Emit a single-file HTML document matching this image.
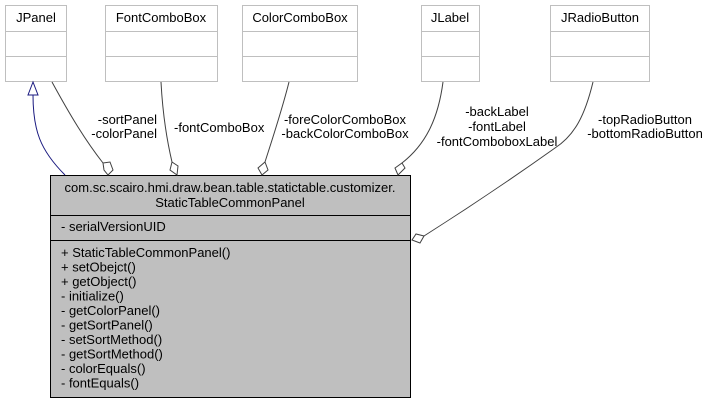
<!DOCTYPE html>
<html><head><meta charset="utf-8"><style>
body{margin:0;background:#fff;}
svg text{font-family:"Liberation Sans",sans-serif;font-size:13px;fill:#000;}
</style></head><body>
<svg width="708" height="404" xmlns="http://www.w3.org/2000/svg">
<g fill="#fff" stroke="#bfbfbf" stroke-width="1">
<rect x="5.5" y="5.5" width="61" height="76"/><line x1="5" y1="31.5" x2="66" y2="31.5"/><line x1="5" y1="56.5" x2="66" y2="56.5"/>
<rect x="105.5" y="5.5" width="112" height="76"/><line x1="105" y1="31.5" x2="217" y2="31.5"/><line x1="105" y1="56.5" x2="217" y2="56.5"/>
<rect x="242.5" y="5.5" width="115" height="76"/><line x1="242" y1="31.5" x2="357" y2="31.5"/><line x1="242" y1="56.5" x2="357" y2="56.5"/>
<rect x="421.5" y="5.5" width="58" height="76"/><line x1="421" y1="31.5" x2="479" y2="31.5"/><line x1="421" y1="56.5" x2="479" y2="56.5"/>
<rect x="550.5" y="5.5" width="99" height="76"/><line x1="550" y1="31.5" x2="649" y2="31.5"/><line x1="550" y1="56.5" x2="649" y2="56.5"/>
</g>
<g text-anchor="middle">
<text x="36" y="22">JPanel</text>
<text x="161" y="22">FontComboBox</text>
<text x="300" y="22">ColorComboBox</text>
<text x="450" y="22">JLabel</text>
<text x="600" y="22">JRadioButton</text>
</g>
<rect x="50.5" y="175.5" width="360" height="222" fill="#bfbfbf" stroke="#000"/>
<line x1="50" y1="215.5" x2="411" y2="215.5" stroke="#000"/>
<line x1="50" y1="240.5" x2="411" y2="240.5" stroke="#000"/>
<text x="230" y="192" text-anchor="middle">com.sc.scairo.hmi.draw.bean.table.statictable.customizer.</text>
<text x="230" y="207" text-anchor="middle">StaticTableCommonPanel</text>
<text x="61" y="231">- serialVersionUID</text>
<g>
<text x="61" y="257">+ StaticTableCommonPanel()</text>
<text x="61" y="271.5">+ setObejct()</text>
<text x="61" y="286">+ getObject()</text>
<text x="61" y="300.5">- initialize()</text>
<text x="61" y="315">- getColorPanel()</text>
<text x="61" y="329.5">- getSortPanel()</text>
<text x="61" y="344">- setSortMethod()</text>
<text x="61" y="358.5">- getSortMethod()</text>
<text x="61" y="373">- colorEquals()</text>
<text x="61" y="387.5">- fontEquals()</text>
</g>
<g fill="none" stroke="#404040">
<path d="M33,95 C33,130 40,150 65,175" stroke="#1a1a80"/>
<path d="M52,82 C70,115 85,140 103,163"/>
<path d="M161,82 C163,120 168,145 172,162"/>
<path d="M289,82 C282,110 272,140 265,162"/>
<path d="M443,82 C438,120 425,145 402,163"/>
<path d="M593,82 C585,115 575,135 555,148 C510,180 465,210 424,236"/>
</g>
<polygon points="33,82 28,95 38,95" fill="#fff" stroke="#1a1a80"/>
<g fill="#fff" stroke="#404040">
<polygon points="103,163 110,162 113,170 108,175 104,170"/>
<polygon points="172,162 178,166 177,175 170,170"/>
<polygon points="265,162 268,170 262,175 258,168"/>
<polygon points="402,163 405,168 398,175 395,168"/>
<polygon points="424,236 420,243 412,240 416,234"/>
</g>
<g text-anchor="end">
<text x="157" y="124">-sortPanel</text>
<text x="157" y="138">-colorPanel</text>
</g>
<text x="174" y="132">-fontComboBox</text>
<g text-anchor="middle">
<text x="345" y="124">-foreColorComboBox</text>
<text x="345" y="138">-backColorComboBox</text>
<text x="497" y="116">-backLabel</text>
<text x="497" y="131">-fontLabel</text>
<text x="497" y="146">-fontComboboxLabel</text>
<text x="645" y="124">-topRadioButton</text>
<text x="645" y="138">-bottomRadioButton</text>
</g>
</svg>
</body></html>
